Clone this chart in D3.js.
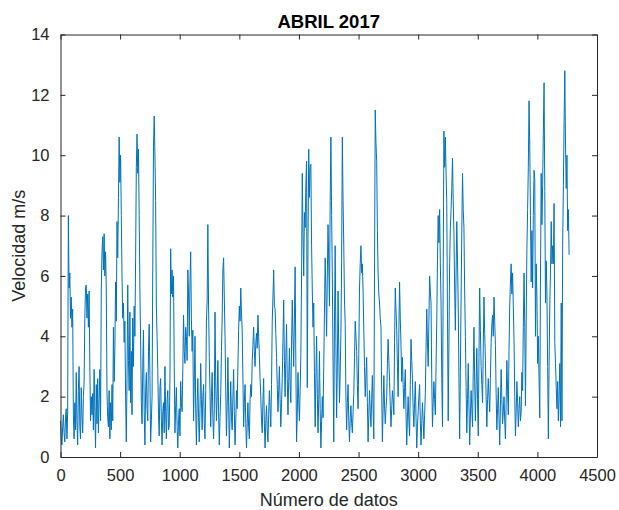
<!DOCTYPE html>
<html>
<head>
<meta charset="utf-8">
<script src="https://cdn.jsdelivr.net/npm/d3@7"></script>
<style>
html,body{margin:0;padding:0;background:#fff;}
svg{display:block;}
text{font-family:"Liberation Sans",Arial,Helvetica,sans-serif;fill:#262626;}
</style>
</head>
<body>
<svg id="chart" width="619" height="510"></svg>
<script>
// ---- data ----
const titulo = "ABRIL 2017";
const etiquetaX = "Número de datos";
const etiquetaY = "Velocidad m/s";
const paso = 6; // samples between recorded values
const velocidad = [
1.2,0.6,0.4,1.0,1.4,0.8,0.5,1.3,1.6,0.6,1.5,8.0,5.6,6.1,4.6,5.3,4.3,4.9,1.4,0.6,
1.8,0.9,2.8,1.2,0.4,2.2,3.0,1.0,0.6,2.3,1.4,0.8,2.0,2.5,4.6,5.6,5.7,4.6,5.4,4.3,
5.5,3.0,1.2,2.0,1.4,2.1,0.9,2.9,1.5,0.3,2.4,1.1,2.6,0.8,1.9,2.9,1.2,5.5,6.8,7.3,
6.2,7.4,6.0,6.8,5.6,2.1,1.3,1.0,2.2,0.6,1.8,0.9,2.4,1.2,4.3,2.5,3.6,5.8,4.5,7.8,
6.6,8.6,10.6,9.1,10.0,8.0,6.0,4.6,5.1,3.8,4.5,2.0,0.5,2.6,5.7,3.2,2.2,4.8,1.8,3.5,
1.4,4.6,3.0,5.0,4.0,6.6,9.6,10.7,9.4,10.2,8.0,5.5,3.9,1.8,1.1,3.0,4.2,1.5,0.4,2.2,
2.8,1.6,1.2,3.5,4.4,2.7,0.5,1.2,2.0,6.3,10.3,11.3,10.0,8.5,5.0,4.0,2.9,1.4,0.7,2.3,
2.6,1.2,0.4,1.5,1.8,0.8,3.0,1.5,0.6,1.9,2.2,0.9,1.0,2.6,6.9,5.4,6.2,5.3,6.0,3.0,
0.8,1.7,2.3,1.0,0.3,1.2,1.6,0.7,2.5,1.8,1.5,2.9,4.7,3.5,3.1,4.3,4.0,3.2,6.2,5.4,
4.0,5.8,6.8,4.6,3.5,4.2,1.2,2.5,4.0,1.6,0.4,1.8,2.6,1.3,0.5,1.6,3.1,1.9,0.9,2.0,
2.4,1.1,0.6,2.2,4.5,5.2,7.7,5.0,3.3,2.1,1.0,2.0,2.8,1.3,0.6,1.6,4.8,2.5,1.2,2.0,
3.2,1.5,0.4,1.3,2.1,3.5,4.6,6.2,6.6,5.3,4.0,2.2,0.7,1.7,3.3,1.8,0.3,1.4,2.5,1.3,
0.9,2.0,2.9,1.5,0.4,1.2,2.2,1.6,3.0,4.2,5.0,4.5,5.6,4.8,4.2,2.6,1.0,1.8,2.4,1.1,
0.3,1.1,1.8,1.0,0.6,1.9,2.4,2.0,3.2,3.7,4.3,3.5,3.0,3.8,4.1,3.6,4.7,4.0,3.4,2.6,
2.0,1.2,0.8,1.9,2.6,1.1,0.3,1.2,1.7,0.9,0.5,1.4,2.2,1.6,1.0,2.4,4.5,5.3,6.2,5.0,
4.9,4.1,3.3,2.4,1.5,2.2,3.0,1.9,1.0,1.8,2.6,3.9,5.2,3.2,2.0,3.3,4.4,2.6,1.4,2.5,
3.6,2.4,1.8,3.7,5.2,4.0,3.0,4.6,6.3,3.1,0.5,1.4,2.8,1.9,1.2,2.2,3.4,6.0,9.4,7.4,
6.0,8.1,7.6,9.0,9.8,2.3,7.2,10.2,8.6,9.6,9.7,7.0,5.5,4.3,5.1,2.8,1.0,2.6,4.0,2.1,
0.8,1.9,3.5,1.6,0.3,1.2,2.0,1.3,3.0,4.8,6.6,5.5,4.0,6.0,7.7,6.4,5.0,8.5,10.6,8.0,
6.0,3.2,0.5,4.5,7.0,3.8,1.3,3.0,5.5,3.6,1.8,2.8,4.1,6.5,10.6,8.5,7.0,5.2,4.4,2.0,
0.9,1.8,2.4,1.2,0.5,1.3,1.7,1.1,0.8,1.5,2.1,3.3,4.5,4.0,3.5,2.4,1.6,3.4,5.6,6.4,
7.0,6.1,6.4,5.5,4.2,3.0,2.0,2.7,3.3,1.8,0.5,1.4,2.2,1.5,1.0,1.9,2.7,1.6,0.6,6.2,
11.5,10.4,9.8,7.5,6.1,5.4,5.1,4.6,4.3,2.2,0.5,1.6,2.7,1.7,1.1,1.6,2.0,3.1,3.9,3.2,
2.5,1.7,1.0,1.6,2.2,1.9,1.4,3.8,5.6,4.9,4.2,3.0,2.0,4.1,5.8,4.6,3.7,2.5,3.3,2.4,
1.6,2.3,2.9,1.5,0.4,1.3,2.0,1.2,0.7,2.4,3.9,3.2,2.6,1.6,1.0,1.8,2.5,1.3,0.3,1.0,
1.5,2.0,2.4,1.2,0.4,1.1,1.8,1.2,0.6,1.4,2.1,3.6,4.9,3.8,3.0,4.5,6.0,5.5,5.1,2.6,
1.0,1.8,2.5,1.9,1.4,3.0,4.5,6.5,8.0,7.1,8.2,6.4,5.1,2.6,1.0,6.0,10.8,9.6,10.6,9.4,
8.4,4.6,1.2,3.8,6.4,7.6,8.2,8.9,9.9,8.5,7.4,5.6,4.2,6.1,7.8,6.5,5.0,2.6,0.6,2.8,
5.2,7.5,9.4,8.2,7.6,5.5,4.0,2.3,0.8,1.9,3.1,1.7,0.4,1.3,2.2,1.6,1.0,2.8,4.3,2.5,
1.2,2.4,3.6,1.9,0.7,3.3,5.6,4.2,3.0,2.4,1.8,3.6,5.3,4.1,3.2,2.0,1.0,1.9,2.6,2.0,
1.5,2.6,3.8,4.4,4.7,4.0,5.3,4.5,3.7,2.1,0.9,1.6,2.3,1.3,0.4,1.7,2.9,1.9,1.1,1.5,
2.0,1.2,0.6,1.8,3.2,2.2,1.4,3.5,5.0,5.8,6.4,5.4,6.1,5.0,3.9,2.0,0.7,1.5,2.5,1.8,
1.0,1.6,2.0,1.2,1.5,2.8,2.2,4.3,6.1,4.3,1.7,4.5,6.9,8.2,9.6,11.8,10.3,8.0,5.8,7.5,
5.6,8.0,9.5,9.2,4.0,6.4,5.3,3.1,4.0,2.6,1.3,6.0,9.4,7.7,9.0,10.8,12.4,8.8,5.1,6.5,
5.4,3.0,0.6,3.0,5.0,6.2,7.8,6.4,7.0,6.4,8.4,3.8,3.1,2.3,1.6,2.5,1.2,2.0,3.1,1.0,
5.1,1.2,7.0,9.0,11.1,12.8,10.3,8.9,10.0,7.5,8.2,6.7
];
const ticksX = [0,500,1000,1500,2000,2500,3000,3500,4000,4500];
const ticksY = [0,2,4,6,8,10,12,14];

// ---- layout ----
const mLeft = 60.5, mRight = 597, mTop = 34.5, mBottom = 457;
const svg = d3.select("#chart");
const x = d3.scaleLinear().domain([0,4500]).range([mLeft,mRight]);
const y = d3.scaleLinear().domain([0,14]).range([mBottom,mTop]);
const axisColor = "#262626";
const tickLen = 5;

// data line
const puntos = velocidad.map((v,i)=>({i:i*paso, v:v}));
svg.append("path")
  .datum(puntos)
  .attr("fill","none")
  .attr("stroke","#0072BD")
  .attr("stroke-width",1)
  .attr("stroke-linejoin","miter")
  .attr("d", d3.line().x(d=>x(d.i)).y(d=>y(d.v)));

// axes (MATLAB style: box, inward ticks)
function styleAxis(g){
  g.select(".domain").attr("stroke",axisColor).attr("stroke-width",1);
  g.selectAll(".tick line").attr("stroke",axisColor).attr("stroke-width",1);
  g.selectAll(".tick text").attr("fill",axisColor)
    .style("font-family","'Liberation Sans',Arial,Helvetica,sans-serif")
    .style("font-size","16.5px");
}
const gx = svg.append("g").attr("transform",`translate(0,${mBottom})`)
  .call(d3.axisBottom(x).tickValues(ticksX).tickSizeInner(-tickLen).tickSizeOuter(0).tickPadding(12).tickFormat(d3.format("d")));
styleAxis(gx);
const gxt = svg.append("g").attr("transform",`translate(0,${mTop})`)
  .call(d3.axisTop(x).tickValues(ticksX).tickSizeInner(-tickLen).tickSizeOuter(0).tickFormat(""));
styleAxis(gxt);
const gy = svg.append("g").attr("transform",`translate(${mLeft},0)`)
  .call(d3.axisLeft(y).tickValues(ticksY).tickSizeInner(-tickLen).tickSizeOuter(0).tickPadding(11).tickFormat(d3.format("d")));
styleAxis(gy);
const gyr = svg.append("g").attr("transform",`translate(${mRight},0)`)
  .call(d3.axisRight(y).tickValues(ticksY).tickSizeInner(-tickLen).tickSizeOuter(0).tickFormat(""));
styleAxis(gyr);

// title & labels
svg.append("text").attr("x",(mLeft+mRight)/2).attr("y",27.5)
  .attr("text-anchor","middle").style("font-size","18.5px").style("font-weight","bold")
  .style("fill","#000").text(titulo);
svg.append("text").attr("x",(mLeft+mRight)/2).attr("y",506)
  .attr("text-anchor","middle").style("font-size","18px").text(etiquetaX);
svg.append("text").attr("transform",`translate(25,${(mTop+mBottom)/2}) rotate(-90)`)
  .attr("text-anchor","middle").style("font-size","18px").text(etiquetaY);
</script>
</body>
</html>
